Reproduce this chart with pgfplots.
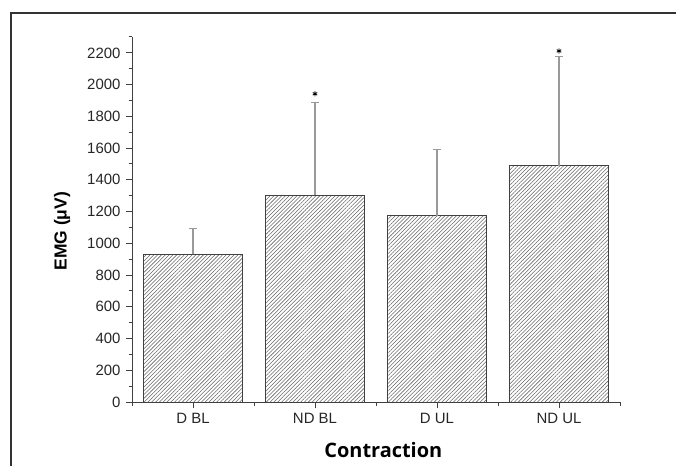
\documentclass[border=0pt]{standalone}
\usepackage{pgfplots}
\pgfplotsset{compat=1.18}
\usetikzlibrary{patterns.meta}
\usepackage{fontspec}
\setmainfont{Liberation Sans}
\newfontfamily\osans{Open Sans}
\begin{document}
\begin{tikzpicture}
\path[use as bounding box] (0,0) rectangle (676bp,466bp);
\draw[line width=1.3pt, black!80] (11bp,0) -- (11bp,453bp) -- (676bp,453bp);
\begin{axis}[
  at={(132bp,64bp)}, anchor=south west,
  scale only axis, width=488bp, height=365bp,
  xmin=-0.5, xmax=3.5, ymin=0, ymax=2300,
  axis x line*=bottom, axis y line*=left,
  axis line style={-, line width=1pt, black!75},
  xtick={0,1,2,3}, xticklabels={D BL, ND BL, D UL, ND UL},
  minor xtick={-0.5,0.5,1.5,2.5,3.5},
  ytick={0,200,...,2200}, minor ytick={100,300,...,2300},
  tick align=outside, major tick length=6bp, minor tick length=3.5bp,
  every tick/.style={line width=1pt, black!75},
  /pgf/number format/assume math mode=true,
  /pgf/number format/1000 sep={},
  tick label style={font=\fontsize{15}{17}\selectfont, text=black!85},
  xticklabel style={yshift=-2bp},
  yticklabel style={xshift=-2bp},
  ylabel={EMG (μV)},
  ylabel style={font=\fontsize{17.5}{19}\selectfont\bfseries, at={(axis description cs:-0.143,0.468)}, anchor=center, rotate=0},
  xlabel={Contraction},
  xlabel style={font=\fontsize{20}{22}\selectfont\osans\bfseries, at={(axis description cs:0.515,-0.1315)}, anchor=center},
]
\addplot[ybar, bar width=0.81, draw=black!75, line width=1pt,
  pattern={Lines[angle=45, distance=2.7bp, line width=0.55bp]}, pattern color=black!60,
  error bars/.cd, y dir=plus, y explicit,
  error bar style={gray!80, line width=1.1pt},
  error mark options={gray!80, line width=1.1pt, mark size=4bp, rotate=90}]
  coordinates {(0,930) +- (0,165) (1,1302) +- (0,588) (2,1175) +- (0,417) (3,1490) +- (0,686)};
\addplot[only marks, mark=asterisk, mark size=2.6bp, black, mark options={line width=0.9pt}]
  coordinates {(1,1942) (3,2212)};
\end{axis}
\end{tikzpicture}
\end{document}
